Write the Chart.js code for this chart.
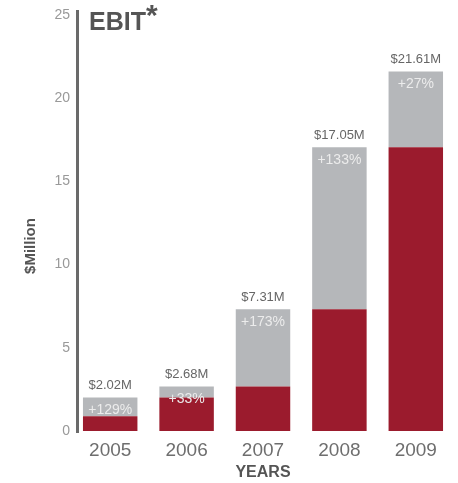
<!DOCTYPE html>
<html>
<head>
<meta charset="utf-8">
<script src="https://cdn.jsdelivr.net/npm/chart.js@4/dist/chart.umd.min.js"></script>
<style>
    html, body { margin: 0; padding: 0; background: #fff; }
    #wrap { position: relative; width: 458px; height: 483px; }
</style>
</head>
<body>
<div id="wrap"><canvas id="ebitChart"></canvas></div>
<script>
// Data
const years = ['2005', '2006', '2007', '2008', '2009'];
const ebitTotals = [2.02, 2.68, 7.31, 17.05, 21.61];
const priorYearEbit = [0.88, 2.02, 2.68, 7.31, 17.05];
const growthLabels = ['+129%', '+33%', '+173%', '+133%', '+27%'];
const yTicks = [0, 5, 10, 15, 20, 25];

// Increase over the prior year sits on top of the prior-year base
const increase = ebitTotals.map((v, i) => +(v - priorYearEbit[i]).toFixed(2));

const RED = '#9b1b2d';
const GREY = '#b5b7ba';
const FONT = '"Liberation Sans", Arial, sans-serif';

// Vertical axis line, drawn just right of the tick labels
const axisLine = {
    id: 'axisLine',
    beforeDatasetsDraw(chart) {
        const { ctx, chartArea } = chart;
        ctx.save();
        ctx.strokeStyle = '#6a6a6a';
        ctx.lineWidth = 3;
        ctx.beginPath();
        ctx.moveTo(chartArea.left + 5.5, 10);
        ctx.lineTo(chartArea.left + 5.5, chartArea.bottom + 2);
        ctx.stroke();
        ctx.restore();
    }
};

// Totals above each bar, growth inside the grey part
const barLabels = {
    id: 'barLabels',
    afterDatasetsDraw(chart) {
        const { ctx } = chart;
        const top = chart.getDatasetMeta(1).data;
        ctx.save();
        ctx.textAlign = 'center';
        ctx.textBaseline = 'middle';
        top.forEach((bar, i) => {
            ctx.fillStyle = '#666';
            ctx.font = `13px ${FONT}`;
            ctx.fillText(`$${ebitTotals[i].toFixed(2)}M`, bar.x, bar.y - 12);
            ctx.fillStyle = '#ececec';
            ctx.font = `14px ${FONT}`;
            ctx.fillText(growthLabels[i], bar.x, bar.y + 13);
        });
        ctx.restore();
    }
};

// Heading and axis titles
const titles = {
    id: 'titles',
    afterDraw(chart) {
        const { ctx, chartArea } = chart;
        ctx.save();
        ctx.fillStyle = '#555';
        ctx.textBaseline = 'middle';

        ctx.textAlign = 'left';
        ctx.font = `bold 25px ${FONT}`;
        ctx.fillText('EBIT', 89, 23);
        const w = ctx.measureText('EBIT').width;
        ctx.font = `bold 30px ${FONT}`;
        ctx.fillText('*', 89 + w, 17);

        ctx.textAlign = 'center';
        ctx.font = `bold 16px ${FONT}`;
        ctx.fillText('YEARS', (chartArea.left + chartArea.right) / 2, 473);

        ctx.translate(31, 246);
        ctx.rotate(-Math.PI / 2);
        ctx.font = `bold 15px ${FONT}`;
        ctx.fillText('$Million', 0, 0);
        ctx.restore();
    }
};

new Chart(document.getElementById('ebitChart'), {
    type: 'bar',
    data: {
        labels: years,
        datasets: [
            { label: 'Prior year', data: priorYearEbit, backgroundColor: RED },
            { label: 'Increase', data: increase, backgroundColor: GREY }
        ]
    },
    options: {
        responsive: true,
        maintainAspectRatio: false,
        animation: false,
        layout: { padding: { top: 15, right: 4, bottom: 0, left: 0 } },
        plugins: {
            legend: { display: false },
            tooltip: { enabled: false }
        },
        datasets: {
            bar: { barPercentage: 0.713, categoryPercentage: 1 }
        },
        scales: {
            x: {
                stacked: true,
                grid: { display: false, drawTicks: false },
                border: { display: false },
                ticks: {
                    color: '#6e6e6e',
                    font: { family: FONT, size: 19 },
                    padding: 8
                },
                afterFit: s => { s.height = 52; }
            },
            y: {
                stacked: true,
                min: 0,
                max: 25,
                grid: { display: false, drawTicks: false },
                border: { display: false },
                afterBuildTicks: s => { s.ticks = yTicks.map(v => ({ value: v })); },
                ticks: {
                    color: '#999',
                    font: { family: FONT, size: 14 },
                    padding: 2
                },
                afterFit: s => { s.width = 72; }
            }
        }
    },
    plugins: [axisLine, barLabels, titles]
});
</script>
</body>
</html>
